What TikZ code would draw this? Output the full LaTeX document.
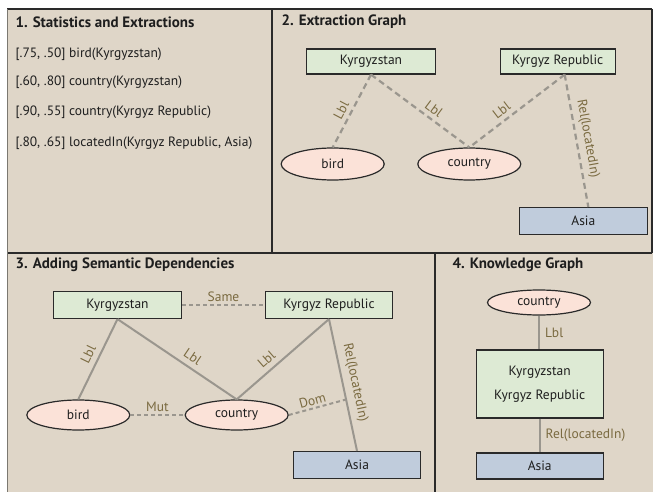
\documentclass[tikz,border=0pt]{standalone}
\usepackage{fontspec}
\setmainfont{PT Sans}
\usetikzlibrary{shapes.geometric}
\definecolor{bgc}{HTML}{DFD6C8}
\definecolor{greenc}{HTML}{DDEAD4}
\definecolor{pinkc}{HTML}{FBE2D8}
\definecolor{bluec}{HTML}{C0CCDC}
\definecolor{labc}{HTML}{7A6A40}
\definecolor{linec}{HTML}{9A968E}
\definecolor{framec}{HTML}{2A2A2A}
\definecolor{txtc}{HTML}{1E1E1E}
\tikzset{
  every node/.style={font=\fontsize{13.5}{15}\selectfont, text=txtc},
  ptitle/.style={anchor=west, font=\fontsize{15}{17}\bfseries\selectfont},
  stat/.style={anchor=west},
  ent/.style={draw=framec, line width=1.2pt, fill=greenc, minimum height=25pt, inner sep=0pt},
  cls/.style={ellipse, draw=framec, line width=1.2pt, fill=pinkc, minimum width=103pt, inner sep=0pt},
  asia/.style={draw=framec, line width=1.2pt, fill=bluec, minimum width=127pt, minimum height=27pt, inner sep=0pt},
  dsh/.style={draw=linec, line width=2.2pt, dash pattern=on 6pt off 4pt},
  dtt/.style={draw=linec, line width=2pt, dash pattern=on 4pt off 3pt},
  sld/.style={draw=linec, line width=2pt},
  lab/.style={text=labc, inner sep=1pt}
}
\begin{document}
\begin{tikzpicture}[x=1pt,y=-1pt]
\useasboundingbox (0,0) rectangle (653,492);
\fill[white] (0,0) rectangle (653,492);
\fill[bgc] (7,9) rectangle (653,492);
% frame
\draw[framec, line width=1.4pt] (7,9) -- (652,9);
\draw[framec, line width=1.4pt] (7,253) -- (652,253);
\draw[framec, line width=1.2pt] (272,9) -- (272,253);
\draw[framec, line width=1.2pt] (435,253) -- (435,492);
\draw[framec, line width=1.2pt] (652,9) -- (652,253);
\draw[linec!80!black, line width=0.8pt] (7,9) -- (7,492);

% Panel 1
\node[ptitle] (t1) at (12,22) {1. Statistics and Extractions};
\node[stat] (s1) at (12,54) {[.75, .50] bird(Kyrgyzstan)};
\node[stat] (s2) at (12,82) {[.60, .80] country(Kyrgyzstan)};
\node[stat] (s3) at (12,112) {[.90, .55] country(Kyrgyz Republic)};
\node[stat] (s4) at (12,143) {[.80, .65] locatedIn(Kyrgyz Republic, Asia)};

% Panel 2
\node[ptitle] (t2) at (278,22) {2. Extraction Graph};
\node[ent, minimum width=129pt] (k2) at (371,61.5) {Kyrgyzstan};
\node[ent, minimum width=115pt] (r2) at (557.7,61.5) {Kyrgyz Republic};
\node[cls, minimum height=32pt] (b2) at (332.7,164) {bird};
\node[cls, minimum height=32pt] (c2) at (469.3,164) {country};
\node[asia, minimum width=128pt] (a2) at (583.3,221) {Asia};
\draw[dsh] (k2.south) -- node[lab, pos=0.55, sloped, above=3pt] (l21) {Lbl} (b2.north);
\draw[dsh] (k2.south) -- node[lab, pos=0.58, sloped, above=3pt] (l22) {Lbl} (c2.north);
\draw[dsh] ([xshift=7pt]r2.south) -- node[lab, pos=0.6, sloped, above=3pt] (l23) {Lbl} (c2.north);
\draw[dsh] ([xshift=7pt]r2.south) -- node[lab, pos=0.5, sloped, above=3pt] (l24) {Rel(locatedIn)} ([xshift=5pt]a2.north);

% Panel 3
\node[ptitle] (t3) at (12,265) {3. Adding Semantic Dependencies};
\node[ent, minimum width=128pt, minimum height=27pt] (k3) at (117.5,305) {Kyrgyzstan};
\node[ent, minimum width=127pt, minimum height=27pt] (r3) at (329,305) {Kyrgyz Republic};
\node[cls, minimum height=30pt] (b3) at (78.3,415) {bird};
\node[cls, minimum height=30pt] (c3) at (236.7,415) {country};
\node[asia] (a3) at (357,465) {Asia};
\draw[sld] (k3.south) -- node[lab, pos=0.5, sloped, above=4pt] (l31) {Lbl} (b3.north);
\draw[sld] (k3.south) -- node[lab, pos=0.58, sloped, above=4pt] (l32) {Lbl} (c3.north);
\draw[sld] (r3.south) -- node[lab, pos=0.6, sloped, above=4pt] (l33) {Lbl} (c3.north);
\draw[sld] (r3.south) -- coordinate[pos=0.61] (dm) node[lab, pos=0.5, sloped, above=4pt] (l34) {Rel(locatedIn)} (a3.north);
\draw[dtt] (k3.east) -- node[lab, above=1pt] (l35) {Same} (r3.west);
\draw[dtt] (b3.east) -- node[lab, above=1pt] (l36) {Mut} (c3.west);
\draw[dtt] (c3.east) -- node[lab, pos=0.45, sloped, above=1pt] (l37) {Dom} (dm);

% Panel 4
\node[ptitle] (t4) at (449,265) {4. Knowledge Graph};
\node[cls, minimum height=25pt] (c4) at (539,302.5) {country};
\node[ent, minimum width=127pt, minimum height=68pt, align=center] (g4) at (539.7,384) {Kyrgyzstan\\[9pt]Kyrgyz Republic};
\node[asia, minimum height=26pt] (a4) at (539.7,466) {Asia};
\draw[sld] (c4.south) -- node[lab, right=4pt] (l41) {Lbl} (c4.south |- g4.north);
\draw[sld] (g4.south) -- node[lab, right=4pt] (l42) {Rel(locatedIn)} (g4.south |- a4.north);
\end{tikzpicture}
\end{document}
